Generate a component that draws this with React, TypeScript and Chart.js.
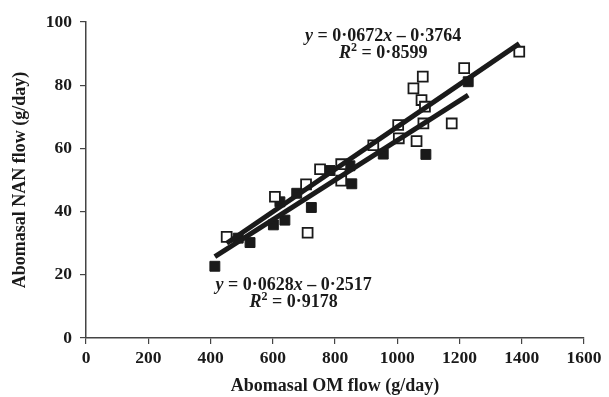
import { useEffect, useRef } from "react";
import { Chart, registerables } from "chart.js";

Chart.register(...registerables);

// Open squares series (g/day)
const openOM = [452, 607, 707, 712, 752, 820, 820, 923, 1005, 1003, 1062, 1052, 1082, 1078, 1089, 1084, 1175, 1215, 1392];
const openNAN = [32, 44.7, 48.6, 33.3, 53.4, 55, 49.8, 61, 63.2, 67.4, 62.3, 79, 82.7, 75.3, 73.2, 67.9, 67.9, 85.4, 90.6];

// Filled squares series (g/day)
const filledOM = [414, 489, 527, 602, 639, 623, 677, 724, 784, 848, 854, 955, 1092, 1228];
const filledNAN = [22.7, 31.6, 30.2, 35.8, 37.3, 43.1, 45.8, 41.3, 53, 54.5, 48.8, 58.2, 58.1, 81.1];

// Regression fits: [slope, intercept]
const openFit = [0.0672, -0.3764];
const filledFit = [0.0628, -0.2517];

const openEq = ["0·0672", "0·3764", "0·8599"];
const filledEq = ["0·0628", "0·2517", "0·9178"];

// label anchor in data units: [x, y line1, y line2]
const openEqPos = [955, 95.6, 90.2];
const filledEqPos = [667, 16.8, 11.4];

const FONT = "'Liberation Serif', 'DejaVu Serif', serif";

function fitLine(xs: number[], fit: number[]) {
  const lo = Math.min(...xs);
  const hi = Math.max(...xs);
  return [
    { x: lo, y: fit[0] * lo + fit[1] },
    { x: hi, y: fit[0] * hi + fit[1] },
  ];
}

type Seg = { t: string; italic?: boolean; sup?: boolean };

function drawSegs(ctx: CanvasRenderingContext2D, segs: Seg[], cx: number, cy: number, size: number) {
  const fontFor = (s: Seg) =>
    `${s.italic ? "italic " : ""}bold ${s.sup ? Math.round(size * 0.65) : size}px ${FONT}`;
  let total = 0;
  const widths = segs.map((s) => {
    ctx.font = fontFor(s);
    const w = ctx.measureText(s.t).width;
    total += w;
    return w;
  });
  let x = cx - total / 2;
  ctx.textBaseline = "middle";
  ctx.textAlign = "left";
  segs.forEach((s, i) => {
    ctx.font = fontFor(s);
    ctx.fillText(s.t, x, s.sup ? cy - size * 0.3 : cy);
    x += widths[i];
  });
}

const eqPlugin = {
  id: "eqLabels",
  afterDatasetsDraw(chart: any) {
    const ctx = chart.ctx as CanvasRenderingContext2D;
    const xs = chart.scales.x;
    const ys = chart.scales.y;
    ctx.save();
    ctx.fillStyle = "#1a1a1a";
    const items: [string[], number[]][] = [
      [openEq, openEqPos],
      [filledEq, filledEqPos],
    ];
    for (const [eq, pos] of items) {
      const cx = xs.getPixelForValue(pos[0]);
      drawSegs(
        ctx,
        [
          { t: "y", italic: true },
          { t: " = " + eq[0] },
          { t: "x", italic: true },
          { t: " – " + eq[1] },
        ],
        cx,
        ys.getPixelForValue(pos[1]),
        18
      );
      drawSegs(
        ctx,
        [{ t: "R", italic: true }, { t: "2", sup: true }, { t: " = " + eq[2] }],
        cx,
        ys.getPixelForValue(pos[2]),
        18
      );
    }
    ctx.restore();
  },
};

export default function App() {
  const ref = useRef<HTMLCanvasElement | null>(null);
  useEffect(() => {
    document.body.style.margin = "0";
    if (!ref.current) return;
    const black = "#1a1a1a";
    const tickFont = { family: FONT, size: 17.5, weight: "bold" as const };
    const titleFont = { family: FONT, size: 18, weight: "bold" as const };
    const chart = new Chart(ref.current, {
      type: "scatter",
      data: {
        datasets: [
          {
            label: "fit open",
            data: fitLine(openOM, openFit),
            showLine: true,
            borderColor: black,
            borderWidth: 5,
            pointRadius: 0,
            order: 0,
          },
          {
            label: "fit filled",
            data: fitLine(filledOM, filledFit),
            showLine: true,
            borderColor: black,
            borderWidth: 5,
            pointRadius: 0,
            order: 0,
          },
          {
            label: "open",
            data: openOM.map((x, i) => ({ x, y: openNAN[i] })),
            pointStyle: "rect",
            pointRadius: 7,
            backgroundColor: "#ffffff",
            borderColor: black,
            borderWidth: 1.8,
            order: 1,
          },
          {
            label: "filled",
            data: filledOM.map((x, i) => ({ x, y: filledNAN[i] })),
            pointStyle: "rect",
            pointRadius: 7,
            backgroundColor: black,
            borderColor: black,
            borderWidth: 1,
            order: 1,
          },
        ],
      },
      options: {
        animation: false,
        responsive: false,
        maintainAspectRatio: false,
        layout: { padding: { left: 0, right: 25, top: 22, bottom: 0 } },
        plugins: { legend: { display: false }, tooltip: { enabled: false } },
        scales: {
          x: {
            type: "linear",
            min: 0,
            max: 1600,
            afterFit: (s: any) => {
              s.height = 59;
            },
            ticks: {
              stepSize: 200,
              color: "#1a1a1a",
              padding: 4,
              font: tickFont,
              callback: (v: any) => String(v),
            },
            grid: { display: true, drawOnChartArea: false, tickLength: 6, color: "#444", lineWidth: 1.2 },
            border: { display: true, color: "#444", width: 1.5 },
            title: {
              display: true,
              text: "Abomasal OM flow (g/day)",
              color: "#1a1a1a",
              font: titleFont,
              padding: { top: 0, bottom: 0 },
            },
          },
          y: {
            type: "linear",
            min: 0,
            max: 100,
            afterFit: (s: any) => {
              s.width = 86;
            },
            ticks: {
              stepSize: 20,
              color: "#1a1a1a",
              padding: 8,
              font: tickFont,
              callback: (v: any) => String(v),
            },
            grid: { display: true, drawOnChartArea: false, tickLength: 6, color: "#444", lineWidth: 1.2 },
            border: { display: true, color: "#444", width: 1.5 },
            title: {
              display: true,
              text: "Abomasal NAN flow (g/day)",
              color: "#1a1a1a",
              font: titleFont,
              padding: { top: 10, bottom: 0 },
            },
          },
        },
      },
      plugins: [eqPlugin],
    });
    return () => chart.destroy();
  }, []);
  return (
    <div style={{ width: 609, height: 397 }}>
      <canvas ref={ref} width={609} height={397} style={{ display: "block" }} />
    </div>
  );
}
